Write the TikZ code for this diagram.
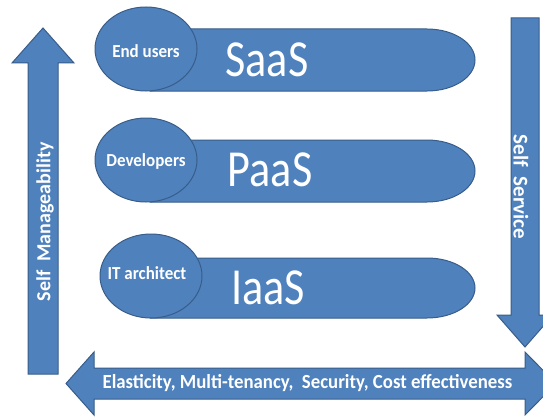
\documentclass[tikz,border=0pt]{standalone}
\usepackage{fontspec}
\setmainfont{Carlito}
\definecolor{fillblue}{HTML}{4F81BD}
\definecolor{edgeblue}{HTML}{385D8A}
\begin{document}
\begin{tikzpicture}[x=1pt,y=1pt,
  blueshape/.style={fill=fillblue,draw=edgeblue,line width=1pt},
  smalllbl/.style={text=white,font=\fontsize{17}{17}\selectfont\bfseries,inner sep=0pt,yscale=1.08},
  biglbl/.style={text=white,font=\fontsize{52}{52}\selectfont,inner sep=0pt,xscale=0.85},
  sidelbl/.style={text=white,font=\fontsize{20}{20}\selectfont\bfseries,inner sep=0pt},
  baselbl/.style={text=white,font=\fontsize{20}{20}\selectfont\bfseries,inner sep=0pt,xscale=0.94}]
\useasboundingbox (0,0) rectangle (543,416);
\clip (0,0) rectangle (543,416);
\fill[white] (0,0) rectangle (543,416);
% up arrow
\draw[blueshape] (28,42) -- (28,353) -- (12,353) -- (43,388) -- (74,353) -- (58,353) -- (58,42) -- cycle;
% down arrow
\draw[blueshape] (511,398) -- (539,398) -- (539,101) -- (553,101) -- (525,69) -- (497,101) -- (511,101) -- cycle;
% double arrow
\draw[blueshape] (66,32.5) -- (94,64) -- (94,48) -- (525,48) -- (525,64) -- (556,32.5) -- (525,1) -- (525,17) -- (94,17) -- (94,1) -- cycle;
% bars
\draw[blueshape] (150,387) -- (427,387) arc[start angle=90,end angle=-90,x radius=48,y radius=31] -- (150,325) -- cycle;
\draw[blueshape] (150,276) -- (427,276) arc[start angle=90,end angle=-90,x radius=48,y radius=31] -- (150,214) -- cycle;
\draw[blueshape] (150,158) -- (427,158) arc[start angle=90,end angle=-90,x radius=48,y radius=30] -- (150,98) -- cycle;
% ellipses
\draw[blueshape] (146,367) ellipse[x radius=51,y radius=42];
\draw[blueshape] (146,256) ellipse[x radius=51,y radius=42];
\draw[blueshape] (151,140) ellipse[x radius=51,y radius=42];
% labels
\node[smalllbl] (eu) at (146,365) {End users};
\node[smalllbl] (dev) at (146,254) {Developers};
\node[smalllbl] (ita) at (147,143) {IT architect};
\node[biglbl] (saas) at (267,356) {SaaS};
\node[biglbl] (paas) at (270,246) {PaaS};
\node[biglbl] (iaas) at (268,128) {IaaS};
\node[sidelbl,rotate=90] (sm) at (45,194) {Self\ \ Manageability};
\node[sidelbl,rotate=-90,font=\fontsize{21}{21}\selectfont\bfseries] (ss) at (521,229) {Self\ \ Service};
\node[baselbl] (base) at (307.5,33) {Elasticity, Multi-tenancy,\ \ Security, Cost effectiveness};
\end{tikzpicture}
\end{document}
